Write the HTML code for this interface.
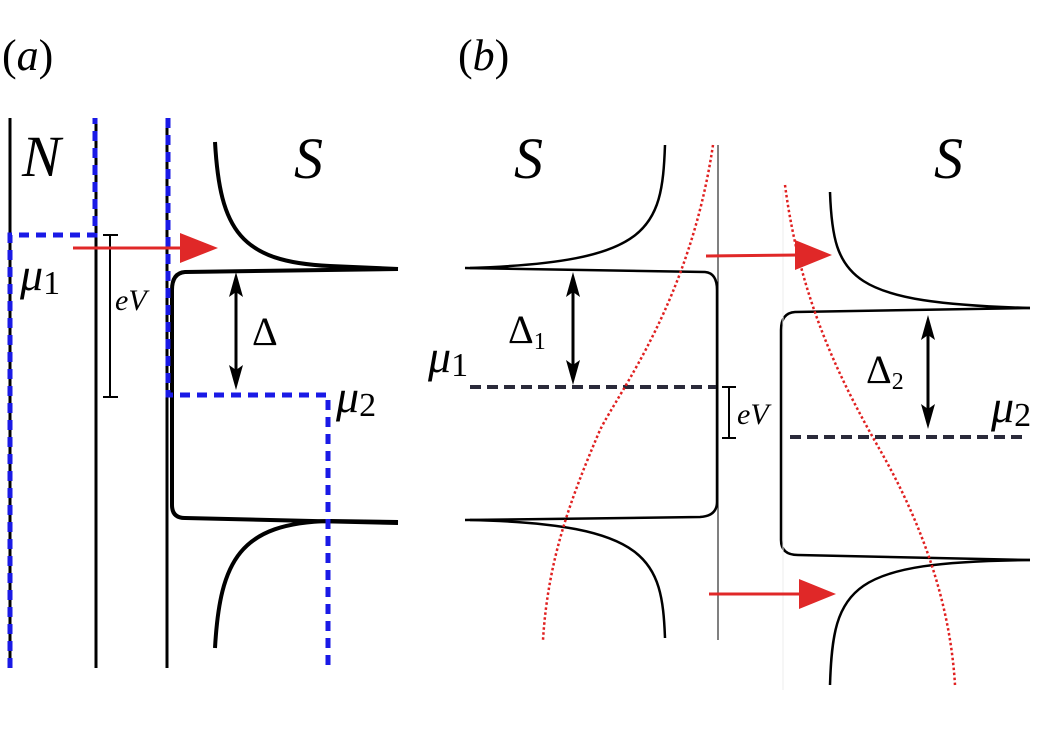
<!DOCTYPE html>
<html><head><meta charset="utf-8"><style>html,body{margin:0;padding:0;background:#fff}svg{display:block}
text{font-family:"Liberation Serif","DejaVu Serif",serif;font-style:italic;fill:#000}</style></head><body>
<svg width="1053" height="745" viewBox="0 0 1053 745" xmlns="http://www.w3.org/2000/svg">
<text x="2" y="70" font-size="44" style="font-style:normal">(<tspan style="font-style:italic">a</tspan>)</text>
<text x="458" y="70" font-size="44" style="font-style:normal">(<tspan style="font-style:italic">b</tspan>)</text>
<text x="22" y="176" font-size="58">N</text>
<text x="294" y="178" font-size="58">S</text>
<text x="514" y="178" font-size="58">S</text>
<text x="934" y="178" font-size="58">S</text>
<text x="20" y="290" font-size="46">μ<tspan font-size="34" style="font-style:normal" dy="4">1</tspan></text>
<text x="115" y="310" font-size="30">eV</text>
<text x="252" y="345" font-size="40" style="font-style:normal">Δ</text>
<text x="336" y="412" font-size="46">μ<tspan font-size="34" style="font-style:normal" dy="4">2</tspan></text>
<text x="428" y="372" font-size="46">μ<tspan font-size="34" style="font-style:normal" dy="4">1</tspan></text>
<text x="508" y="343" font-size="40" style="font-style:normal">Δ<tspan font-size="24" dy="6">1</tspan></text>
<text x="737" y="424" font-size="30">eV</text>
<text x="866" y="383" font-size="40" style="font-style:normal">Δ<tspan font-size="24" dy="6">2</tspan></text>
<text x="991" y="422" font-size="46">μ<tspan font-size="34" style="font-style:normal" dy="4">2</tspan></text>

<g stroke="#000" fill="none" stroke-width="3">
<line x1="10" y1="118" x2="10" y2="668"/>
<line x1="96" y1="118" x2="96" y2="668"/>
<line x1="167" y1="118" x2="167" y2="668"/>
</g>
<g stroke="#000" fill="none" stroke-width="4">
<path d="M215,142 C220,230 240,262 330,266 L398,269" />
<path d="M398,269 L185,272 Q172,273 172,290 L172,505 Q172,518 185,518 L398,523"/>
<path d="M398,522 L330,521 C240,523 220,560 215,648"/>
</g>
<g stroke="#000" stroke-width="2" fill="none">
<line x1="110" y1="235" x2="110" y2="397"/><line x1="103" y1="235" x2="118" y2="235"/><line x1="103" y1="397" x2="118" y2="397"/>
</g>
<line x1="236" y1="285" x2="236" y2="378" stroke="#000" stroke-width="3"/>
<path d="M236,272 L243,297 L236,292 L229,297 z M236,390 L243,365 L236,370 L229,365 z"/>
<g stroke="#1a1ae6" stroke-width="5" fill="none" stroke-dasharray="10,7">
<path d="M10,668 L10,235 L95,235 L95,118"/>
<path d="M168,118 L168,395 L328,395 L328,668"/>
</g>
<line x1="73" y1="248" x2="185" y2="248" stroke="#e02828" stroke-width="3"/>
<path d="M180,233 L218,248 L180,263 z" fill="#e02828"/>

<g stroke="#000" fill="none" stroke-width="2.5">
<path d="M665,145 C662,230 650,262 470,268"/>
<path d="M465,268 L705,272 Q717,273 717,290 L717,502 Q717,516 700,517 L465,520"/>
<path d="M470,520 C650,524 662,560 665,638"/>
<path d="M830,192 C833,280 850,303 1030,308"/>
<path d="M1030,308 L795,312 Q781,313 781,330 L781,540 Q781,555 798,555 L1030,560"/>
<path d="M1030,560 C850,562 833,585 830,685"/>
</g>
<line x1="718" y1="145" x2="718" y2="640" stroke="#000" stroke-width="1"/>
<line x1="783" y1="190" x2="783" y2="690" stroke="#eee" stroke-width="1"/>
<g stroke="#2a2a3a" stroke-width="4" stroke-dasharray="11,6">
<line x1="470" y1="387" x2="716" y2="387"/>
<line x1="790" y1="437" x2="1028" y2="437"/>
</g>
<g stroke="#000" stroke-width="2" fill="none">
<line x1="729" y1="387" x2="729" y2="438"/><line x1="722" y1="387" x2="736" y2="387"/><line x1="722" y1="438" x2="736" y2="438"/>
</g>
<line x1="573" y1="285" x2="573" y2="372" stroke="#000" stroke-width="3"/>
<path d="M573,272 L580,297 L573,292 L566,297 z M573,385 L580,360 L573,365 L566,360 z"/>
<line x1="928" y1="328" x2="928" y2="416" stroke="#000" stroke-width="3"/>
<path d="M928,315 L935,340 L928,335 L921,340 z M928,429 L935,404 L928,409 L921,404 z"/>
<g stroke="#e02020" stroke-width="2.5" fill="none" stroke-dasharray="2.5,2.5">
<path d="M713,145 C690,300 620,390 600,430 C570,500 548,560 543,640"/>
<path d="M785,185 C800,300 840,380 880,450 C920,520 950,600 955,685"/>
</g>
<line x1="706" y1="256" x2="800" y2="255" stroke="#e02828" stroke-width="3"/>
<path d="M795,240 L832,255 L795,270 z" fill="#e02828"/>
<line x1="709" y1="594" x2="805" y2="594" stroke="#e02828" stroke-width="3"/>
<path d="M799,579 L836,594 L799,609 z" fill="#e02828"/>
</svg>
</body></html>
